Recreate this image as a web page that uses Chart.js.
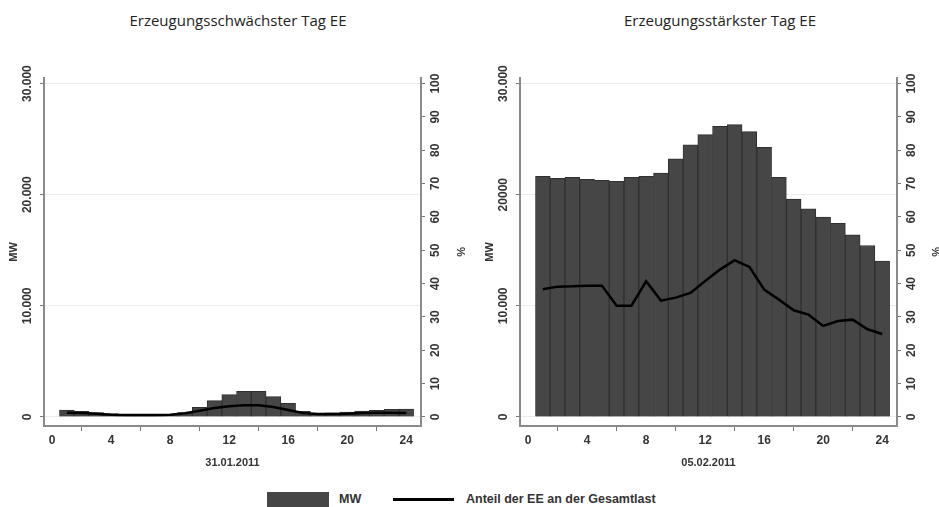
<!DOCTYPE html>
<html>
<head>
<meta charset="utf-8">
<script src="https://cdn.jsdelivr.net/npm/chart.js@4/dist/chart.umd.min.js"></script>
<style>
    body { margin: 0; background: #fff; width: 939px; height: 507px; position: relative; overflow: hidden; font-family: "Liberation Sans", Arial, sans-serif; }
    .title { position: absolute; top: 11px; font-family: "Open Sans", sans-serif; font-size: 15px; line-height: 18px; color: #222; white-space: nowrap; transform: translateX(-50%); }
    canvas { position: absolute; top: 0; }
    #low { left: 0; }
    #high { left: 470px; }
    .swatch-bar { position: absolute; left: 267px; top: 492px; width: 62px; height: 15px; background: #464646; }
    .swatch-line { position: absolute; left: 393px; top: 498px; width: 61px; height: 3px; background: #000; }
    .legend-text { position: absolute; top: 492px; font-size: 12.5px; line-height: 15px; font-weight: bold; color: #333; white-space: nowrap; }
</style>
</head>
<body>
<div class="title" style="left:238px">Erzeugungsschwächster Tag EE</div>
<div class="title" style="left:720px">Erzeugungsstärkster Tag EE</div>
<canvas id="low" width="469" height="480"></canvas>
<canvas id="high" width="469" height="480"></canvas>
<div class="swatch-bar"></div>
<div class="legend-text" style="left:339px">MW</div>
<div class="swatch-line"></div>
<div class="legend-text" style="left:466px">Anteil der EE an der Gesamtlast</div>
<script>
const hours = [1, 2, 3, 4, 5, 6, 7, 8, 9, 10, 11, 12, 13, 14, 15, 16, 17, 18, 19, 20, 21, 22, 23, 24];
const hourTicks = [0, 4, 8, 12, 16, 20, 24];

// 31.01.2011
const lowMW = [630, 510, 400, 300, 250, 230, 230, 250, 400, 870, 1470, 2010, 2310, 2310, 1830, 1230, 510, 330, 370, 450, 540, 590, 690, 720];
const lowShare = [1.3, 1.2, 1.0, 0.7, 0.6, 0.6, 0.6, 0.7, 1.1, 1.9, 2.7, 3.2, 3.5, 3.5, 3.0, 2.1, 1.2, 0.9, 0.9, 1.0, 1.2, 1.3, 1.3, 1.2];

// 05.02.2011
const highMW = [21650, 21470, 21560, 21380, 21290, 21200, 21560, 21650, 21950, 23220, 24480, 25410, 26160, 26310, 25680, 24270, 21560, 19610, 18740, 17990, 17420, 16400, 15430, 14030];
const highShare = [38.3, 39.1, 39.2, 39.4, 39.4, 33.4, 33.4, 40.7, 34.9, 35.8, 37.2, 40.8, 44.2, 47.0, 45.0, 38.2, 35.2, 32.0, 30.7, 27.3, 28.8, 29.2, 26.3, 24.9];

const mwTickValues = [0, 10000, 20000, 30000];
const lowMwTickLabels = ['0', '10.000', '20.000', '30.000'];
const highMwTickLabels = ['0', '10.000', '20000', '30.000'];
const pctTickValues = [0, 10, 20, 30, 40, 50, 60, 70, 80, 90, 100];

const axisColor = '#8a8a8a';
const textColor = '#333';
const tickFont = { size: 12, weight: 'bold' };

// y tick labels in the picture are turned 90 degrees and centred on the tick
const rotatedTickLabels = {
    id: 'rotatedTickLabels',
    afterDraw(chart) {
        const ctx = chart.ctx;
        ctx.save();
        ctx.font = 'bold 12px "Liberation Sans", Arial, sans-serif';
        ctx.fillStyle = textColor;
        ctx.textAlign = 'center';
        ctx.textBaseline = 'middle';
        ['y', 'y2'].forEach(id => {
            const s = chart.scales[id];
            const x = s.position === 'left' ? s.right - 16 : s.left + 15;
            s.ticks.forEach(t => {
                ctx.save();
                ctx.translate(x, s.getPixelForValue(t.value));
                ctx.rotate(-Math.PI / 2);
                ctx.fillText(t.label, 0, 0);
                ctx.restore();
            });
        });
        ctx.restore();
    }
};

function buildDayChart(id, mw, share, mwLabels, dateLabel, leftW, rightW, mwPad, pctPad) {
    const ctx = document.getElementById(id).getContext('2d');

    return new Chart(ctx, {
        data: {
            datasets: [{
                type: 'line',
                label: 'Anteil der EE an der Gesamtlast',
                data: hours.map((h, i) => ({ x: h, y: share[i] })),
                yAxisID: 'y2',
                borderColor: '#000',
                borderWidth: 2.5,
                pointRadius: 0,
                order: 0
            },
            {
                type: 'bar',
                label: 'MW',
                data: hours.map((h, i) => ({ x: h, y: mw[i] })),
                yAxisID: 'y',
                backgroundColor: '#464646',
                borderColor: '#303030',
                borderWidth: 1,
                barPercentage: 1,
                categoryPercentage: 1,
                order: 1
            }]
        },
        options: {
            responsive: false,
            animation: false,
            devicePixelRatio: 1,
            layout: {
                padding: { top: 78, left: 0, right: 0, bottom: 0 }
            },
            plugins: {
                legend: { display: false },
                tooltip: { enabled: false }
            },
            scales: {
                x: {
                    type: 'linear',
                    min: -0.55,
                    max: 25,
                    offset: false,
                    afterBuildTicks: s => { s.ticks = hourTicks.map(v => ({ value: v })); },
                    afterFit: s => { s.height = 54; },
                    grid: { drawOnChartArea: false, tickLength: 5, color: '#777' },
                    border: { color: axisColor, width: 2 },
                    ticks: { color: textColor, font: tickFont, padding: 2, maxRotation: 0 },
                    title: { display: true, text: dateLabel, color: textColor, font: { size: 11, weight: 'bold' }, padding: { bottom: 10 } }
                },
                y: {
                    position: 'left',
                    min: -810,
                    max: 30500,
                    afterBuildTicks: s => { s.ticks = mwTickValues.map(v => ({ value: v })); },
                    afterFit: s => { s.width = leftW; },
                    grid: { color: '#ececec', tickColor: '#777', tickLength: 4 },
                    border: { color: axisColor, width: 2 },
                    ticks: { display: false, callback: v => mwLabels[mwTickValues.indexOf(v)] },
                    title: { display: true, text: 'MW', color: textColor, font: { size: 11, weight: 'bold' }, padding: { top: mwPad, bottom: 0 } }
                },
                y2: {
                    position: 'right',
                    min: -2.7,
                    max: 101.67,
                    afterBuildTicks: s => { s.ticks = pctTickValues.map(v => ({ value: v })); },
                    afterFit: s => { s.width = rightW; },
                    grid: { drawOnChartArea: false, color: '#777', tickLength: 4 },
                    border: { color: axisColor, width: 2 },
                    ticks: { display: false, callback: v => String(v) },
                    title: { display: true, text: '%', color: textColor, font: { size: 11, weight: 'bold' }, padding: { top: pctPad, bottom: 0 } }
                }
            }
        },
        plugins: [rotatedTickLabels]
    });
}

window.addEventListener('load', () => {
    buildDayChart('low', lowMW, lowShare, lowMwTickLabels, '31.01.2011', 44, 48, 7, 2);
    buildDayChart('high', highMW, highShare, highMwTickLabels, '05.02.2011', 50, 42, 13, -3);
});
</script>
</body>
</html>
